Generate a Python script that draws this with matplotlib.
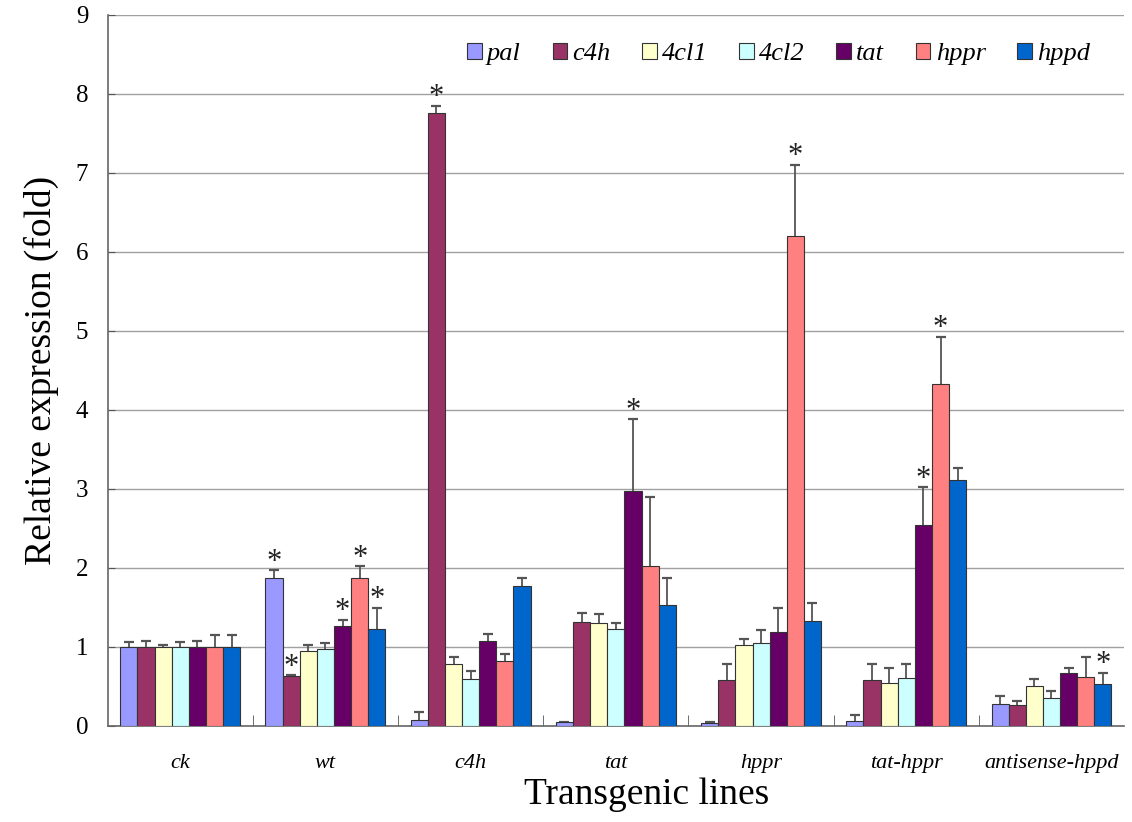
import matplotlib.pyplot as plt
import numpy as np

lines = ['ck', 'wt', 'c4h', 'tat', 'hppr', 'tat-hppr', 'antisense-hppd']
genes = ['pal', 'c4h', '4cl1', '4cl2', 'tat', 'hppr', 'hppd']
colors = ['#9999FF', '#993366', '#FFFFCC', '#CCFFFF', '#660066', '#FF8080', '#0066CC']

# mean expression per gene, one value per transgenic line
pal = [1.0, 1.87, 0.08, 0.05, 0.035, 0.065, 0.28]
c4h = [1.0, 0.63, 7.76, 1.32, 0.58, 0.58, 0.26]
cl1 = [1.0, 0.95, 0.78, 1.30, 1.02, 0.54, 0.51]
cl2 = [1.0, 0.97, 0.60, 1.23, 1.05, 0.61, 0.36]
tat = [1.0, 1.26, 1.08, 2.98, 1.19, 2.54, 0.67]
hppr = [1.0, 1.87, 0.82, 2.02, 6.20, 4.33, 0.62]
hppd = [1.0, 1.23, 1.77, 1.53, 1.33, 3.12, 0.53]

# standard deviations (upper error bars)
pal_err = [0.06, 0.10, 0.10, 0.0, 0.02, 0.07, 0.10]
c4h_err = [0.08, 0.01, 0.09, 0.11, 0.21, 0.21, 0.06]
cl1_err = [0.025, 0.07, 0.09, 0.12, 0.08, 0.19, 0.08]
cl2_err = [0.06, 0.08, 0.09, 0.07, 0.16, 0.17, 0.08]
tat_err = [0.075, 0.08, 0.09, 0.90, 0.30, 0.48, 0.07]
hppr_err = [0.15, 0.15, 0.09, 0.88, 0.90, 0.60, 0.25]
hppd_err = [0.15, 0.26, 0.10, 0.34, 0.23, 0.15, 0.14]

# (line index, gene index) marked with *
signif = [(1, 0), (1, 1), (1, 4), (1, 5), (1, 6), (2, 1), (3, 4),
          (4, 5), (5, 4), (5, 5), (6, 6)]

values = [pal, c4h, cl1, cl2, tat, hppr, hppd]
errors = [pal_err, c4h_err, cl1_err, cl2_err, tat_err, hppr_err, hppd_err]

plt.rcParams['font.family'] = ['Liberation Serif', 'DejaVu Serif']

fig = plt.figure(figsize=(11.32, 8.22), dpi=100)
ax = fig.add_axes([0.0951, 0.1168, 0.8979, 0.865])

x = np.arange(len(lines))
w = 0.118
for i, g in enumerate(genes):
    pos = x + (i - 3) * w
    v = np.array(values[i])
    top = v + np.array(errors[i])
    ax.bar(pos, v, w, color=colors[i], edgecolor='#333333',
           linewidth=0.8, label=g, zorder=3)
    # upper error bars only
    ax.vlines(pos, v, top, color='#555555', linewidth=1.3, zorder=2)
    ax.plot(pos, top, linestyle='none', marker='_', markersize=7,
            markeredgewidth=1.6, color='#555555', zorder=2)

for li, gi in signif:
    top = values[gi][li] + errors[gi][li]
    ax.annotate('*', (x[li] + (gi - 3) * w, top), xytext=(0, 6),
                textcoords='offset points', ha='center', va='center',
                fontsize=22, color='#222222', zorder=5)

ax.set_xlim(-0.5, len(lines) - 0.5)
ax.set_ylim(0, 9)
ax.set_yticks(range(10))
ax.yaxis.grid(True, color='#a0a0a0', linewidth=1.0, zorder=0)
ax.set_xticks(x)
ax.set_xticklabels(lines, family='Liberation Serif', fontstyle='italic',
                   fontsize=16)
ax.set_xticks(np.arange(0.5, len(lines) - 1, 1), minor=True)
ax.tick_params(axis='x', which='major', length=0, pad=20)
ax.tick_params(axis='x', which='minor', direction='in', length=8,
               color='#555555')
ax.tick_params(axis='y', direction='in', length=5, labelsize=18, pad=14,
               color='#555555')
for s in ['top', 'right']:
    ax.spines[s].set_visible(False)
for s in ['left', 'bottom']:
    ax.spines[s].set_color('#666666')
    ax.spines[s].set_linewidth(1.2)

ax.set_ylabel('Relative expression (fold)', fontsize=27, labelpad=12)
ax.set_xlabel('Transgenic lines', fontsize=27)
ax.xaxis.set_label_coords(0.53, -0.073)

leg = ax.legend(ncol=7, loc='center right', bbox_to_anchor=(0.99, 0.945),
                frameon=False,
                prop={'family': 'Liberation Serif', 'style': 'italic',
                      'size': 19},
                handlelength=0.55, handleheight=0.55, handletextpad=0.2,
                columnspacing=1.2)

fig.savefig('out.png', dpi=100)
